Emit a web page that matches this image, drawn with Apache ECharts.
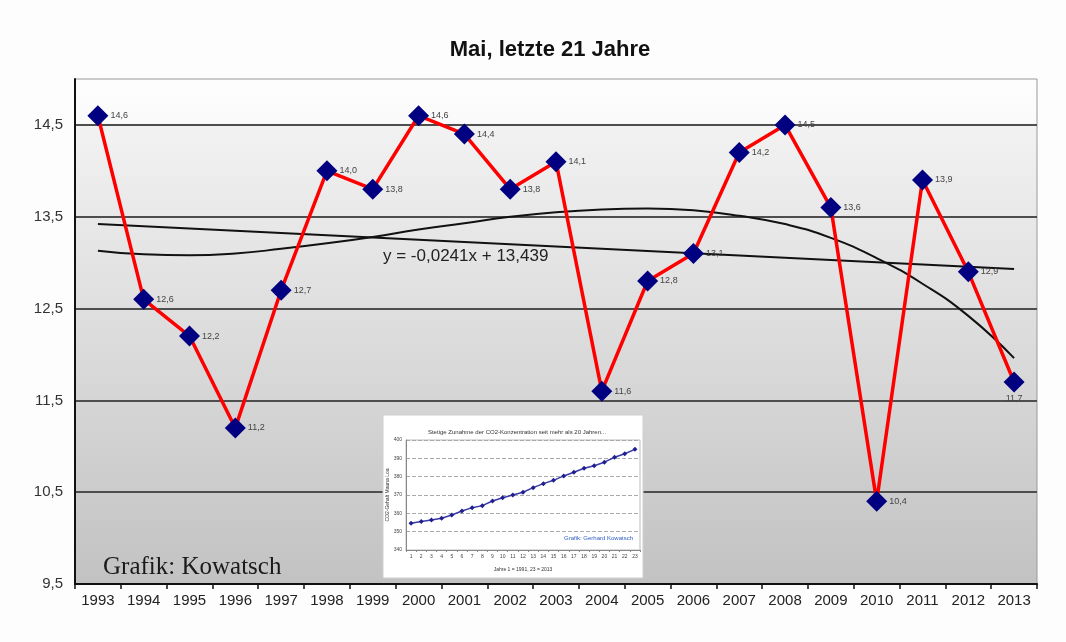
<!DOCTYPE html>
<html>
<head>
<meta charset="utf-8">
<script src="https://cdn.jsdelivr.net/npm/echarts@6/dist/echarts.min.js"></script>
<style>
  html, body { margin: 0; padding: 0; background: #fdfdfd; }
  #chart { width: 1066px; height: 642px; }
</style>
</head>
<body>
<div id="chart"></div>
<script>
// Mai-Temperaturen, letzte 21 Jahre
const years = ['1993', '1994', '1995', '1996', '1997', '1998', '1999', '2000', '2001', '2002', '2003',
  '2004', '2005', '2006', '2007', '2008', '2009', '2010', '2011', '2012', '2013']
const temps = [14.6, 12.6, 12.2, 11.2, 12.7, 14.0, 13.8, 14.6, 14.4, 13.8, 14.1,
  11.6, 12.8, 13.1, 14.2, 14.5, 13.6, 10.4, 13.9, 12.9, 11.7]
// Trendlinien
const linTrendEnds = [13.42, 12.93]
const polyTrend = [13.13, 13.09, 13.08, 13.10, 13.15, 13.21, 13.28, 13.36, 13.43, 13.50, 13.55,
  13.58, 13.59, 13.57, 13.51, 13.42, 13.27, 13.05, 12.77, 12.42, 11.96]
const yTicks = [9.5, 10.5, 11.5, 12.5, 13.5, 14.5]

// kleine CO2-Grafik
const co2Idx = ['1', '2', '3', '4', '5', '6', '7', '8', '9', '10', '11', '12', '13', '14', '15', '16',
  '17', '18', '19', '20', '21', '22', '23']
const co2 = [354.6, 355.5, 356.4, 357.3, 359.1, 361.3, 363.1, 364.2, 366.7, 368.5, 370.0, 371.5,
  374.0, 376.2, 378.0, 380.4, 382.4, 384.6, 386.0, 387.9, 390.6, 392.5, 394.9]

const fmt = v => v.toFixed(1).replace('.', ',')

let myChart = echarts.init(document.getElementById('chart'))

const tempData = temps.map((v, i) => {
  if (i === temps.length - 1) {
    return { value: v, label: { position: 'bottom', distance: 2 } }
  }
  return v
})
const linData = years.map((y, i) => {
  if (i === 0) return linTrendEnds[0]
  if (i === years.length - 1) return linTrendEnds[1]
  return null
})

const option = {
  backgroundColor: '#fdfdfd',
  animation: false,
  title: [
    {
      text: 'Mai, letzte 21 Jahre',
      left: 545,
      top: 34,
      textAlign: 'center',
      textStyle: { fontFamily: 'Liberation Sans', fontWeight: 'bold', fontSize: 22, color: '#111' }
    },
    {
      text: 'Stetige Zunahme der CO2-Konzentration seit mehr als 20 Jahren...',
      left: 512,
      top: 424,
      textAlign: 'center',
      textStyle: { fontFamily: 'Liberation Sans', fontWeight: 'normal', fontSize: 6, color: '#333' }
    }
  ],
  grid: [
    {
      left: 75, right: 29, top: 79, bottom: 58,
      show: true,
      borderColor: '#999',
      borderWidth: 1,
      backgroundColor: new echarts.graphic.LinearGradient(0, 0, 0, 1, [
        { offset: 0, color: '#fdfdfd' },
        { offset: 0.088, color: '#fafafa' },
        { offset: 0.092, color: '#f2f2f2' },
        { offset: 1, color: '#c2c2c2' }
      ])
    },
    {
      left: 406, right: 426, top: 440, bottom: 92,
      show: true,
      borderColor: '#bbb',
      borderWidth: 1,
      backgroundColor: '#fff',
      z: 3
    }
  ],
  xAxis: [
    {
      type: 'category',
      gridIndex: 0,
      data: years,
      boundaryGap: true,
      axisLine: { lineStyle: { color: '#111', width: 2 } },
      axisTick: { show: true, length: 5, lineStyle: { color: '#111', width: 1.5 } },
      axisLabel: { margin: 9, fontFamily: 'Liberation Sans', fontSize: 15, color: '#222' }
    },
    {
      type: 'category',
      gridIndex: 1,
      data: co2Idx,
      boundaryGap: true,
      z: 4,
      name: 'Jahre 1 = 1991, 23 = 2013',
      nameLocation: 'middle',
      nameGap: 17,
      nameTextStyle: { fontSize: 5, color: '#333', fontFamily: 'Liberation Sans' },
      axisLine: { lineStyle: { color: '#888', width: 1 } },
      axisTick: { show: true, length: 2, lineStyle: { color: '#888' } },
      axisLabel: { margin: 4, fontSize: 5, color: '#444', interval: 0 }
    }
  ],
  yAxis: [
    {
      type: 'value',
      gridIndex: 0,
      min: 9.5,
      max: 15,
      interval: 0.5,
      axisLine: { show: true, lineStyle: { color: '#111', width: 2 } },
      axisTick: { show: false },
      axisLabel: {
        margin: 12,
        fontFamily: 'Liberation Sans',
        fontSize: 15,
        color: '#333',
        formatter: function (v) {
          return yTicks.some(t => Math.abs(t - v) < 1e-6) ? fmt(v) : ''
        }
      },
      splitLine: {
        show: true,
        lineStyle: { color: ['#4e4e4e', 'rgba(0,0,0,0)'], width: 2 }
      }
    },
    {
      type: 'value',
      gridIndex: 1,
      min: 340,
      max: 400,
      interval: 10,
      z: 4,
      name: 'CO2-Gehalt Mauna Loa',
      nameLocation: 'middle',
      nameGap: 14,
      nameRotate: 90,
      nameTextStyle: { fontSize: 5, color: '#333', fontFamily: 'Liberation Sans' },
      axisLine: { show: true, lineStyle: { color: '#888', width: 1 } },
      axisTick: { show: false },
      axisLabel: { margin: 4, fontSize: 5, color: '#444' },
      splitLine: { show: true, lineStyle: { color: '#aaa', type: 'dashed', width: 1 } }
    }
  ],
  graphic: [
    {
      type: 'rect',
      z: 1,
      shape: { x: 383, y: 415, width: 260, height: 163 },
      style: { fill: '#ffffff', stroke: '#cfcfcf', lineWidth: 1 }
    },
    {
      type: 'text',
      z: 10,
      left: 383,
      top: 248,
      style: {
        text: 'y = -0,0241x + 13,439',
        font: '17px "Liberation Sans"',
        fill: '#222'
      }
    },
    {
      type: 'text',
      z: 10,
      left: 103,
      top: 555,
      style: {
        text: 'Grafik: Kowatsch',
        font: '25px "Liberation Serif"',
        fill: '#1a1a1a'
      }
    },
    {
      type: 'text',
      z: 10,
      left: 564,
      top: 535,
      style: {
        text: 'Grafik: Gerhard Kowatsch',
        font: '6px "Liberation Sans"',
        fill: '#2d5fc4'
      }
    }
  ],
  series: [
    {
      name: 'Trend linear',
      type: 'line',
      xAxisIndex: 0,
      yAxisIndex: 0,
      data: linData,
      connectNulls: true,
      showSymbol: false,
      symbol: 'none',
      silent: true,
      lineStyle: { color: '#111', width: 2 },
      z: 3
    },
    {
      name: 'Trend polynom',
      type: 'line',
      xAxisIndex: 0,
      yAxisIndex: 0,
      data: polyTrend,
      smooth: true,
      symbol: 'none',
      silent: true,
      lineStyle: { color: '#111', width: 2 },
      z: 3
    },
    {
      name: 'Mai',
      type: 'line',
      xAxisIndex: 0,
      yAxisIndex: 0,
      data: tempData,
      symbol: 'diamond',
      symbolSize: 21,
      itemStyle: { color: '#000080' },
      lineStyle: { color: '#ff0000', width: 3.5 },
      label: {
        show: true,
        position: 'right',
        distance: 2,
        fontFamily: 'Liberation Sans',
        fontSize: 9,
        color: '#444',
        formatter: function (p) { return fmt(p.value) }
      },
      z: 5
    },
    {
      name: 'CO2',
      type: 'line',
      xAxisIndex: 1,
      yAxisIndex: 1,
      data: co2,
      symbol: 'diamond',
      symbolSize: 5,
      itemStyle: { color: '#1f1f8f' },
      lineStyle: { color: '#3a3aa8', width: 1.5 },
      z: 6
    }
  ]
}

myChart.setOption(option)
</script>
</body>
</html>
